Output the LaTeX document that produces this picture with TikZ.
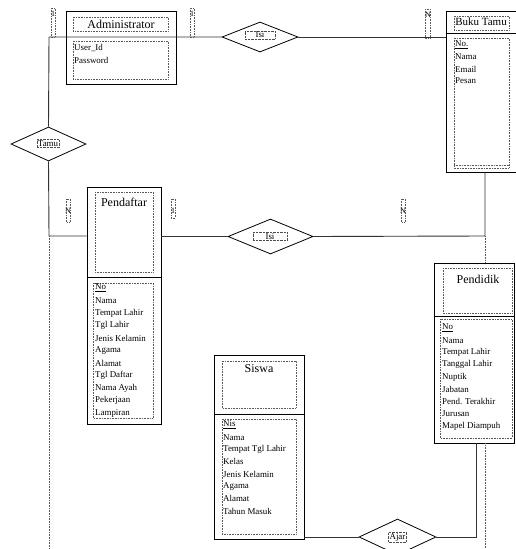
\documentclass[tikz,border=0pt]{standalone}
\usepackage{fontspec}
\setmainfont{Liberation Serif}
\usetikzlibrary{shapes.geometric}

\tikzset{
  entity/.style={draw, line width=0.9pt, inner sep=0pt},
  relation/.style={draw, diamond, line width=0.8pt, inner sep=0pt},
  conn/.style={line width=0.9pt, draw=black!80},
  guide/.style={densely dotted, line width=0.6pt, draw=black!65},
  header/.style={inner sep=0pt, font=\fontsize{12}{14}\selectfont},
  attr/.style={anchor=west, inner sep=0pt, font=\fontsize{8.9}{10}\selectfont},
  rlabel/.style={draw, densely dotted, draw=black!70, inner sep=1pt, font=\fontsize{8.9}{10}\selectfont},
  card/.style={inner sep=0pt, font=\fontsize{8}{9}\selectfont}
}

\begin{document}
\begin{tikzpicture}[x=1pt,y=-1pt]
  \useasboundingbox (0,0) rectangle (515,549);

  % entities
  \node[entity, minimum width=110pt, minimum height=73pt] (admin) at (121,47.5) {};
  \node[entity, minimum width=71pt, minimum height=161pt] (bukutamu) at (481.5,91.5) {};
  \node[entity, minimum width=74pt, minimum height=237pt] (pendaftar) at (124,305.5) {};
  \node[entity, minimum width=80pt, minimum height=180pt] (pendidik) at (474,353) {};
  \node[entity, minimum width=90pt, minimum height=184pt] (siswa) at (259,447) {};

  \draw[entity] (bukutamu.west |- 0,33) -- (bukutamu.east |- 0,33);
  \draw[entity] (pendaftar.west |- 0,277) -- (pendaftar.east |- 0,277);
  \draw[entity] (pendidik.west |- 0,316) -- (pendidik.east |- 0,316);
  \draw[entity] (siswa.west |- 0,414) -- (siswa.east |- 0,414);

  % text boxes inside the entities
  \draw[guide] (73,17) rectangle (168,31);
  \draw[guide] (73,41) rectangle (168,79);
  \draw[guide] (454,16) rectangle (509,30);
  \draw[guide] (454,38) rectangle (509,168);
  \draw[guide] (454,165) -- (509,165);
  \draw[guide] (95,192) rectangle (153,272);
  \draw[guide] (93,283) rectangle (153,418);
  \draw[guide] (443,268) rectangle (512,313);
  \draw[guide] (440,319) rectangle (512,438);
  \draw[guide] (222,361) rectangle (296,408);
  \draw[guide] (222,419) rectangle (296,534);

  \node[header] (admint) at (121,24) {Administrator};
  \node[header, font=\fontsize{11}{13}\selectfont] (bukut) at (481,22) {Buku Tamu};
  \node[header] (pendaftart) at (124,202) {Pendaftar};
  \node[header] (pendidikt) at (478,279) {Pendidik};
  \node[header] (siswat) at (259,369) {Siswa};

  \foreach [count=\i] \attr in {User\_Id, Password}
    \node[attr] (ad\i) at (74, 36+12*\i) {\attr};
  \foreach [count=\i] \attr in {\underline{No.}, Nama, Email, Pesan}
    \node[attr] (bt\i) at (455, 33+12*\i) {\attr};
  \foreach [count=\i] \attr in {\underline{No}, Nama, Tempat Lahir, Tgl Lahir, Jenis Kelamin, Agama,
      Alamat, Tgl Daftar, Nama Ayah, Pekerjaan, Lampiran}
    \node[attr] (pf\i) at (95, 275.5+12.5*\i) {\attr};
  \foreach [count=\i] \attr in {\underline{No}, Nama, Tempat Lahir, Tanggal Lahir, Nuptik, Jabatan,
      Pend. Terakhir, Jurusan, Mapel Diampuh}
    \node[attr] (pd\i) at (442, 315.75+12.25*\i) {\attr};
  \foreach [count=\i] \attr in {\underline{Nis}, Nama, Tempat Tgl Lahir, Kelas, Jenis Kelamin, Agama,
      Alamat, Tahun Masuk}
    \node[attr] (sw\i) at (223, 412.7+12.3*\i) {\attr};

  % relationships
  \node[relation, minimum width=76pt, minimum height=30pt] (isi1) at (260,37) {};
  \node[relation, minimum width=75pt, minimum height=34pt] (tamu) at (48.5,144) {};
  \node[relation, minimum width=85pt, minimum height=35pt] (isi2) at (270.5,236.5) {};
  \node[relation, minimum width=77pt, minimum height=36pt] (ajar) at (397.5,537) {};

  \node[rlabel, minimum width=30pt] (isi1l) at (260,35) {Isi};
  \node[rlabel] (tamul) at (48,143.5) {Tamu};
  \node[rlabel, minimum width=34pt] (isi2l) at (270,236.5) {Isi};
  \node[rlabel] (ajarl) at (397.5,537) {Ajar};

  % connectors
  \coordinate (ctop) at (49,37);
  \coordinate (cleft) at (49,236);
  \coordinate (cright) at (485,236);
  \coordinate (cajar) at (476,537);
  \draw[conn] (isi1.west) -- (ctop) -- (tamu.north);
  \draw[conn] (tamu.south) -- (cleft) -- (cleft -| pendaftar.west);
  \draw[conn] (isi1.east) -- (isi1.east -| bukutamu.west);
  \draw[conn] (pendaftar.east |- isi2) -- (isi2.west);
  \draw[conn] (isi2.east) -- (cright) -- (cright |- bukutamu.south);
  \draw[conn] (siswa.east |- ajar) -- (ajar.west);
  \draw[conn] (ajar.east) -- (cajar) -- (cajar |- pendidik.south);

  \draw[guide] (cleft) -- (49,549);
  \draw[guide] (cright) -- (cright |- pendidik.north);
  \draw[guide] (pendidik.south -| cright) -- (485,549);

  % cardinalities
  \node[card] (n1) at (53,14) {1};
  \node[card] (n2) at (192,14) {1};
  \node[card] (n3) at (428,15) {N};
  \node[card] (n4) at (68,211) {N};
  \node[card] (n5) at (173,211) {1};
  \node[card] (n6) at (403,211) {N};
  \draw[guide] (51,8) rectangle (55,37);
  \draw[guide] (190,8) rectangle (194,37);
  \draw[guide] (425,9) rectangle (430,38);
  \draw[guide] (66,199) rectangle (70,222);
  \draw[guide] (171,199) rectangle (175,218);
  \draw[guide] (401,199) rectangle (405,222);
\end{tikzpicture}
\end{document}
